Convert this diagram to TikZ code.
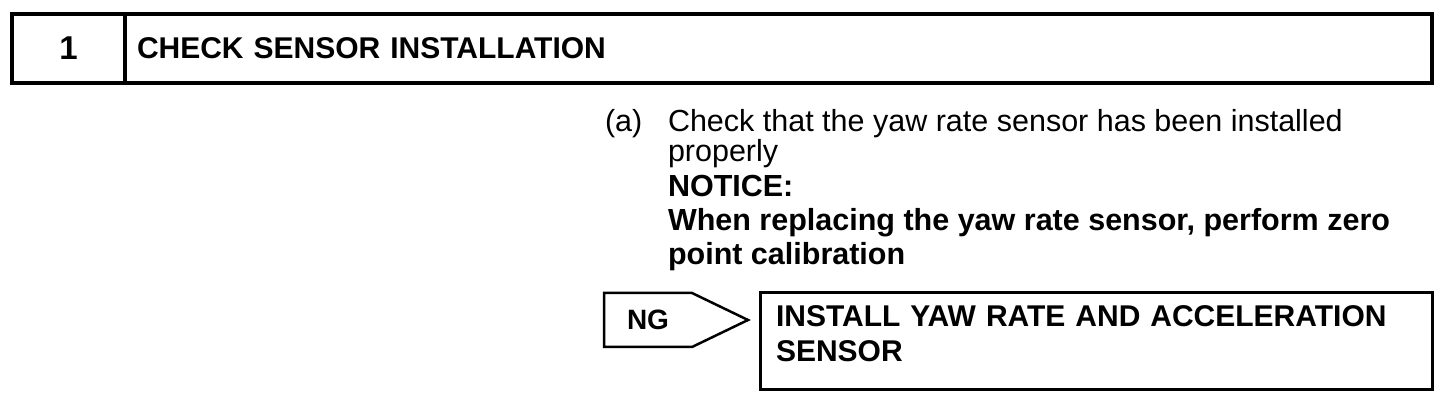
\documentclass[tikz,border=0pt]{standalone}
\usepackage{fontspec}
\setmainfont{Liberation Sans}
\usetikzlibrary{positioning}
\usetikzlibrary{shapes.symbols}

\tikzset{
  hdrbox/.style={draw, rectangle, line width=2pt, inner sep=0pt, outer sep=0pt,
    minimum height=34.5pt, font=\fontsize{15}{17}\selectfont\bfseries},
  para/.style={inner sep=0pt, outer sep=0pt, align=left,
    font=\fontsize{15.25}{15}\selectfont},
  ngsig/.style={draw, shape=signal, signal to=east, signal pointer angle=51.5,
    line width=1.25pt, inner sep=0pt, outer sep=0pt, minimum width=72pt,
    minimum height=27pt, font=\fontsize{14}{16}\selectfont\bfseries},
  resbox/.style={draw, rectangle, line width=1.5pt, outer sep=0pt, align=left,
    font=\fontsize{15}{17.5}\selectfont\bfseries}
}

\begin{document}
\begin{tikzpicture}[x=0.5pt, y=-0.5pt]
\useasboundingbox (0,0) rectangle (1456,416);

% header bar
\node[hdrbox, minimum width=56.5pt, font=\fontsize{16.5}{17}\selectfont\bfseries] (num) at (68.5,48.5) {1};
\node[hdrbox, right=0pt of num, text width=641.5pt, inner xsep=6pt, align=left] (title) {CHECK SENSOR INSTALLATION};

% step text (base = last line)
\node[para, anchor=base west] (lbl) at (605,132) {(a)};
\node[para, anchor=base west] (check) at (668,162) {Check that the yaw rate sensor has been installed\\properly};
\node[para, anchor=base west, font=\fontsize{15.25}{17}\selectfont\bfseries] (notice) at (668,265) {NOTICE:\\When replacing the yaw rate sensor, perform zero\\point calibration};

% result
\node[ngsig, anchor=west] (ng) at (604,320) {NG};
\node[resbox, anchor=north west, text width=320pt, inner xsep=8pt, inner ysep=0pt, text height=17pt, text depth=31.5pt] (install) at (760,293) {INSTALL YAW RATE AND ACCELERATION\\SENSOR};

\end{tikzpicture}
\end{document}
